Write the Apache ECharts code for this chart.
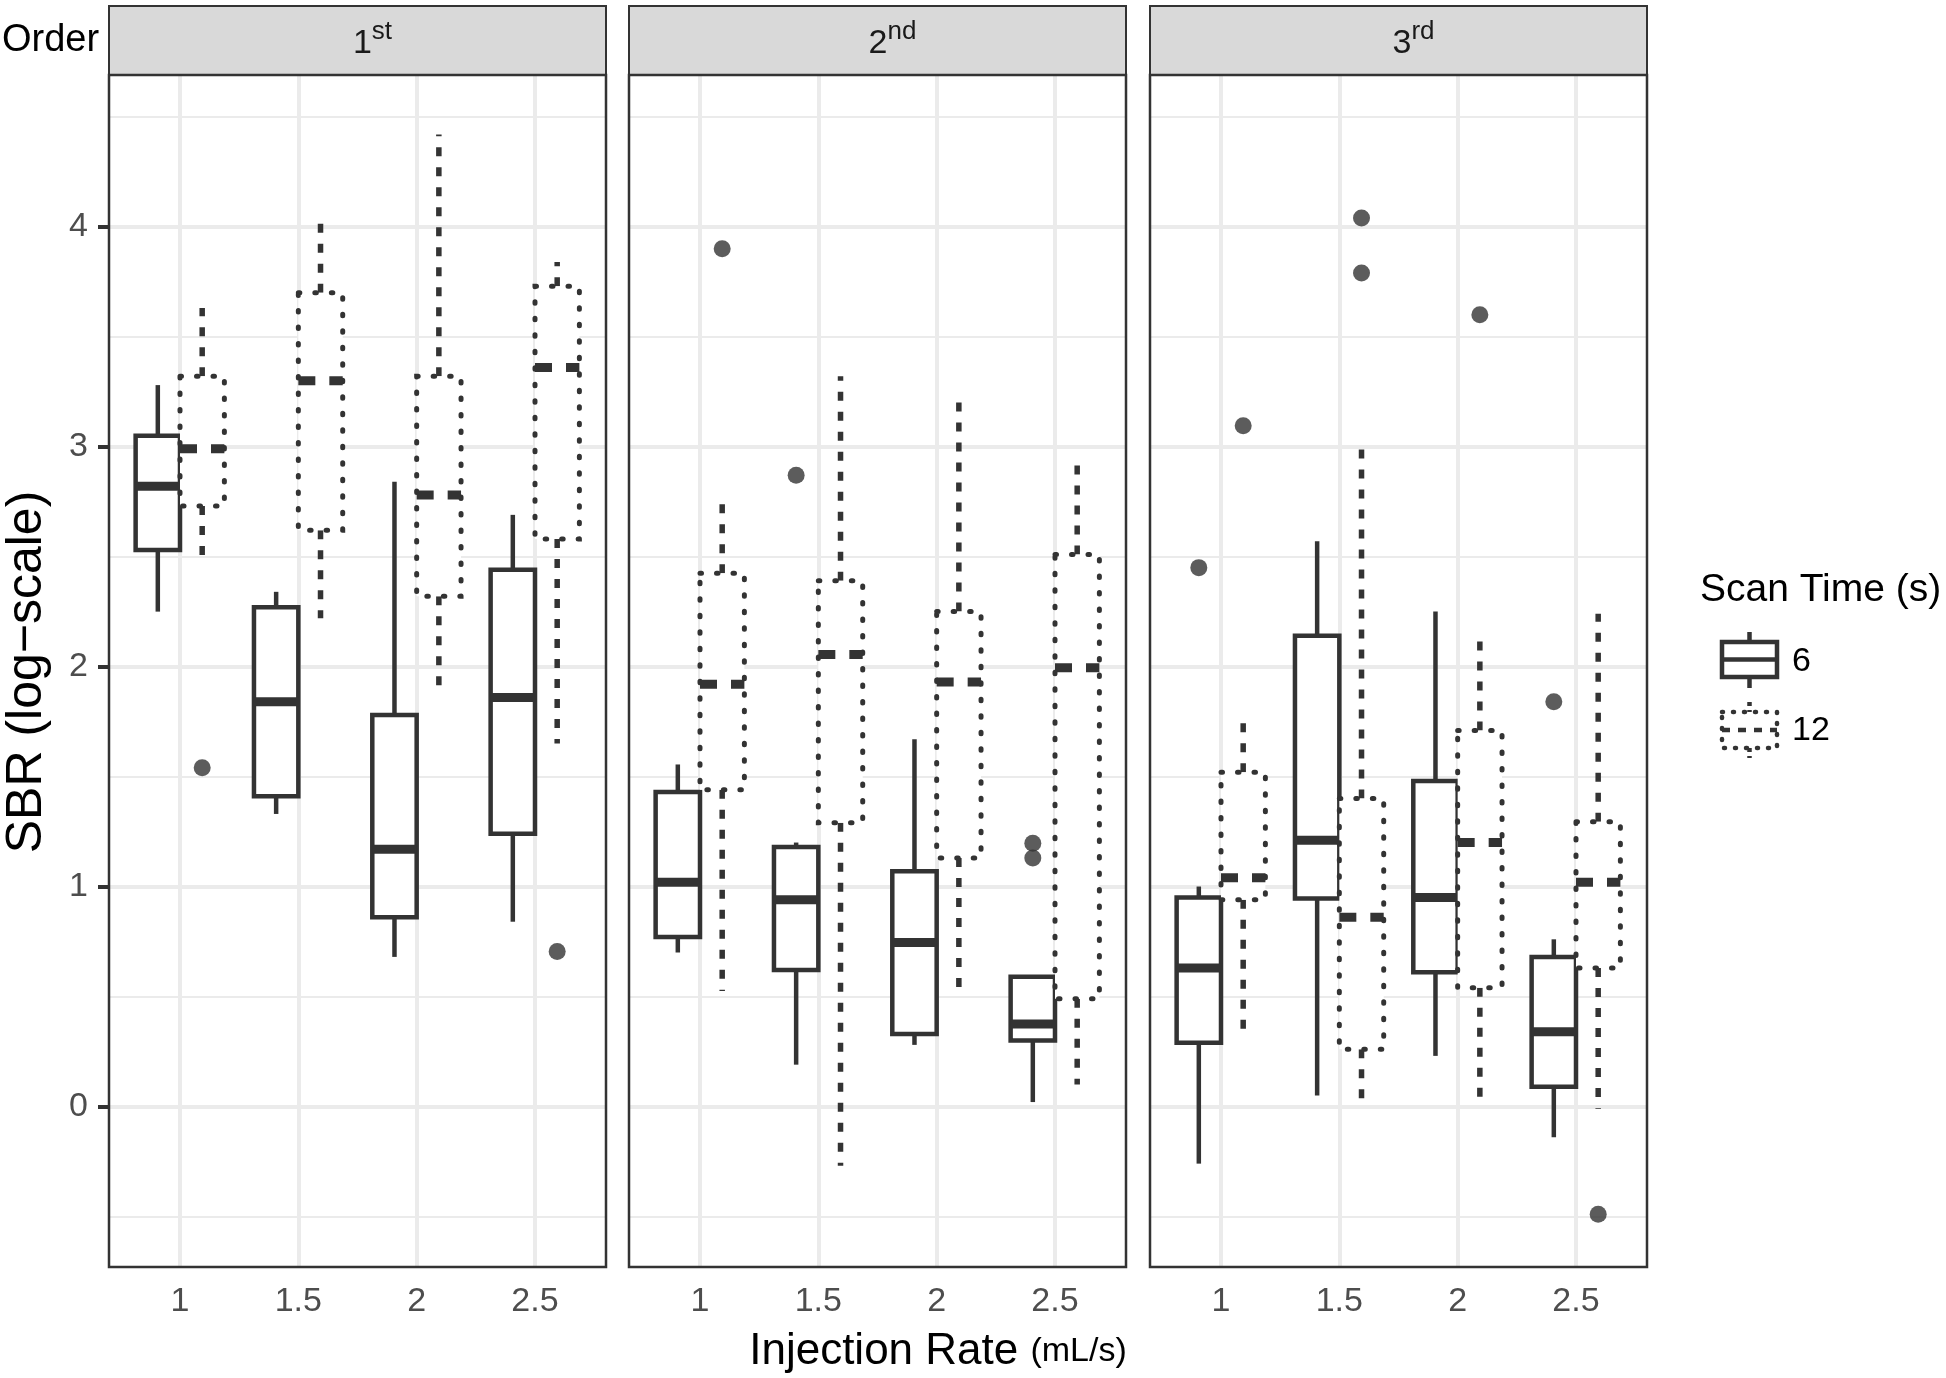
<!DOCTYPE html>
<html><head><meta charset="utf-8">
<script src="https://cdn.jsdelivr.net/npm/echarts@6/dist/echarts.min.js"></script>
<style>html,body{margin:0;padding:0;background:#fff}#c{width:1946px;height:1378px}</style>
</head><body><div id="c"></div>
<script>
// ---------------- data ----------------
const categories = ['1', '1.5', '2', '2.5'];          // Injection Rate (mL/s)
const facetMain = ['1', '2', '3'];
const facetSup = ['st', 'nd', 'rd'];
const yTickValues = [0, 1, 2, 3, 4];
const yMinorValues = [-0.5, 0.5, 1.5, 2.5, 3.5, 4.5];
const scanTimes = ['6', '12'];

// [lower whisker, Q1, median, Q3, upper whisker] for each injection rate
const box6_1st  = [[2.25, 2.53, 2.82, 3.05, 3.28], [1.33, 1.41, 1.84, 2.27, 2.34], [0.68, 0.86, 1.17, 1.78, 2.84], [0.84, 1.24, 1.86, 2.44, 2.69]];
const box12_1st = [[2.46, 2.73, 2.99, 3.32, 3.63], [2.22, 2.62, 3.30, 3.70, 4.02], [1.89, 2.32, 2.78, 3.32, 4.42], [1.65, 2.58, 3.36, 3.73, 3.84]];
const box6_2nd  = [[0.70, 0.77, 1.02, 1.43, 1.555], [0.19, 0.62, 0.94, 1.18, 1.20], [0.28, 0.33, 0.745, 1.07, 1.67], [0.02, 0.30, 0.375, 0.59, 0.59]];
const box12_2nd = [[0.525, 1.44, 1.92, 2.425, 2.74], [-0.27, 1.29, 2.055, 2.39, 3.32], [0.505, 1.13, 1.93, 2.25, 3.24], [0.10, 0.49, 1.995, 2.51, 2.93]];
const box6_3rd  = [[-0.26, 0.29, 0.63, 0.95, 1.00], [0.05, 0.945, 1.21, 2.14, 2.57], [0.23, 0.61, 0.95, 1.48, 2.25], [-0.14, 0.09, 0.34, 0.68, 0.76]];
const box12_3rd = [[0.33, 0.94, 1.04, 1.52, 1.78], [0.0, 0.26, 0.86, 1.40, 3.005], [0.0, 0.54, 1.20, 1.71, 2.12], [-0.01, 0.63, 1.02, 1.295, 2.24]];

// outliers: [injection rate index, value]
const out6_1st  = [];
const out12_1st = [[0, 1.54], [3, 0.705]];
const out6_2nd  = [[1, 2.87], [3, 1.197], [3, 1.13]];
const out12_2nd = [[0, 3.90]];
const out6_3rd  = [[0, 2.45], [3, 1.84]];
const out12_3rd = [[0, 3.095], [1, 4.04], [1, 3.79], [2, 3.60], [3, -0.49]];

// ---------------- layout ----------------
const FONT = '"Liberation Sans", Arial, sans-serif';
const INK = '#333333';
const GRID_COLOR = '#ebebeb';
const panelLefts = [109, 629, 1150];
const PW = 497, PT = 75, PH = 1192;
const DODGE = 0.1875;      // half of dodge width in category units
const HALF = 0.1875;       // half box width

const panels = [
  { box6: box6_1st, box12: box12_1st, out6: out6_1st, out12: out12_1st },
  { box6: box6_2nd, box12: box12_2nd, out6: out6_2nd, out12: out12_2nd },
  { box6: box6_3rd, box12: box12_3rd, out6: out6_3rd, out12: out12_3rd }
];

function boxRenderer(dotted) {
  return function (params, api) {
    const x = api.value(0);
    const lo = api.coord([x, api.value(1)]);
    const q1 = api.coord([x, api.value(2)]);
    const md = api.coord([x, api.value(3)]);
    const q3 = api.coord([x, api.value(4)]);
    const hi = api.coord([x, api.value(5)]);
    const l = api.coord([x - HALF, 0])[0];
    const r = api.coord([x + HALF, 0])[0];
    const cx = lo[0];
    const whisk = dotted
      ? { stroke: INK, lineWidth: 5.5, lineDash: [9, 11], lineCap: 'butt' }
      : { stroke: INK, lineWidth: 4.5 };
    const boxStyle = dotted
      ? { fill: '#fff', stroke: INK, lineWidth: 5, lineDash: [1.5, 15], lineCap: 'round' }
      : { fill: '#fff', stroke: INK, lineWidth: 4.5 };
    const medStyle = dotted
      ? { stroke: INK, lineWidth: 9, lineDash: [17, 14], lineCap: 'butt' }
      : { stroke: INK, lineWidth: 9 };
    return {
      type: 'group',
      children: [
        { type: 'line', shape: { x1: cx, y1: q3[1], x2: cx, y2: hi[1] }, style: whisk },
        { type: 'line', shape: { x1: cx, y1: q1[1], x2: cx, y2: lo[1] }, style: whisk },
        { type: 'rect', shape: { x: l, y: q3[1], width: r - l, height: q1[1] - q3[1] }, style: boxStyle },
        { type: 'line', shape: { x1: l, y1: md[1], x2: r, y2: md[1] }, style: medStyle }
      ]
    };
  };
}

const grids = [], xAxes = [], yAxes = [], series = [], graphics = [];

panels.forEach((p, k) => {
  grids.push({ left: panelLefts[k], top: PT, width: PW, height: PH, show: false, containLabel: false });
  xAxes.push({
    type: 'value', gridIndex: k, min: 0.4, max: 4.6,
    splitLine: { show: false }, axisLine: { show: false },
    axisTick: { show: true, customValues: [1, 2, 3, 4], length: 11, lineStyle: { color: INK, width: 4 } },
    axisLabel: {
      customValues: [1, 2, 3, 4], formatter: v => categories[Math.round(v) - 1],
      color: '#4d4d4d', fontSize: 34, fontFamily: FONT, margin: 18
    }
  });
  yAxes.push({
    type: 'value', gridIndex: k, min: -0.73, max: 4.69,
    splitLine: { show: false }, axisLine: { show: false },
    axisTick: { show: k === 0, customValues: yTickValues, length: 11, lineStyle: { color: INK, width: 4 } },
    axisLabel: {
      show: k === 0, customValues: yTickValues, formatter: v => String(v),
      color: '#4d4d4d', fontSize: 34, fontFamily: FONT, margin: 21
    }
  });

  const gridLines = [].concat(
    yMinorValues.map(v => ({ yAxis: v, lineStyle: { color: GRID_COLOR, width: 2, type: 'solid' } })),
    yTickValues.map(v => ({ yAxis: v, lineStyle: { color: GRID_COLOR, width: 4, type: 'solid' } })),
    [1, 2, 3, 4].map(v => ({ xAxis: v, lineStyle: { color: GRID_COLOR, width: 4, type: 'solid' } }))
  );

  series.push({
    type: 'custom', name: scanTimes[0], xAxisIndex: k, yAxisIndex: k, z: 3,
    renderItem: boxRenderer(false),
    encode: { x: 0, y: [1, 2, 3, 4, 5] },
    data: p.box6.map((b, i) => [i + 1 - DODGE].concat(b)),
    markLine: { silent: true, z: 1, symbol: ['none', 'none'], label: { show: false }, emphasis: { disabled: true }, animation: false, data: gridLines }
  });
  series.push({
    type: 'custom', name: scanTimes[1], xAxisIndex: k, yAxisIndex: k, z: 3,
    renderItem: boxRenderer(true),
    encode: { x: 0, y: [1, 2, 3, 4, 5] },
    data: p.box12.map((b, i) => [i + 1 + DODGE].concat(b))
  });
  series.push({
    type: 'scatter', xAxisIndex: k, yAxisIndex: k, z: 4, symbol: 'circle', symbolSize: 17,
    itemStyle: { color: INK }, silent: true,
    data: p.out6.map(([i, v]) => [i + 1 - DODGE, v])
  });
  series.push({
    type: 'scatter', xAxisIndex: k, yAxisIndex: k, z: 4, symbol: 'circle', symbolSize: 17,
    itemStyle: { color: INK }, silent: true,
    data: p.out12.map(([i, v]) => [i + 1 + DODGE, v])
  });

  // strip + border
  graphics.push({ type: 'rect', z: 50, shape: { x: panelLefts[k], y: 6, width: PW, height: PT - 6 },
    style: { fill: '#d9d9d9', stroke: INK, lineWidth: 2 } });
  graphics.push({ type: 'rect', z: 100, shape: { x: panelLefts[k], y: PT, width: PW, height: PH },
    style: { fill: 'rgba(0,0,0,0)', stroke: INK, lineWidth: 2.5 } });
  graphics.push({ type: 'text', z: 60, x: panelLefts[k] + PW / 2 + 15, y: 40,
    style: {
      text: '{m|' + facetMain[k] + '}{s|' + facetSup[k] + '}',
      align: 'center', verticalAlign: 'middle',
      rich: {
        m: { fontSize: 34, fontFamily: FONT, fill: '#1a1a1a', lineHeight: 42, verticalAlign: 'bottom' },
        s: { fontSize: 26, fontFamily: FONT, fill: '#1a1a1a', lineHeight: 26, verticalAlign: 'top' }
      }
    } });
});

// facet title, axis titles, legend
graphics.push({ type: 'text', z: 60, x: 2, y: 41,
  style: { text: 'Order', fontSize: 38, fontFamily: FONT, fill: '#000', align: 'left', verticalAlign: 'middle' } });
graphics.push({ type: 'text', z: 60, x: 938, y: 1352,
  style: {
    text: '{a|Injection Rate }{b|(mL/s)}', align: 'center', verticalAlign: 'middle',
    rich: { a: { fontSize: 44, fontFamily: FONT, fill: '#000' }, b: { fontSize: 34, fontFamily: FONT, fill: '#000' } }
  } });
graphics.push({ type: 'text', z: 60, x: 27, y: 672, rotation: Math.PI / 2,
  style: { text: 'SBR (log\u2212scale)', fontSize: 50, fontFamily: FONT, fill: '#000', align: 'center', verticalAlign: 'middle' } });

graphics.push({ type: 'text', z: 60, x: 1700, y: 590,
  style: { text: 'Scan Time (s)', fontSize: 39, fontFamily: FONT, fill: '#000', align: 'left', verticalAlign: 'middle' } });
// legend key: 6 (solid)
graphics.push({ type: 'line', z: 60, shape: { x1: 1749.5, y1: 632, x2: 1749.5, y2: 642 }, style: { stroke: INK, lineWidth: 4.5 } });
graphics.push({ type: 'line', z: 60, shape: { x1: 1749.5, y1: 677, x2: 1749.5, y2: 688 }, style: { stroke: INK, lineWidth: 4.5 } });
graphics.push({ type: 'rect', z: 60, shape: { x: 1722, y: 642, width: 55, height: 35 }, style: { fill: '#fff', stroke: INK, lineWidth: 4.5 } });
graphics.push({ type: 'line', z: 61, shape: { x1: 1722, y1: 659.5, x2: 1777, y2: 659.5 }, style: { stroke: INK, lineWidth: 4.5 } });
graphics.push({ type: 'text', z: 60, x: 1792, y: 662,
  style: { text: scanTimes[0], fontSize: 34, fontFamily: FONT, fill: '#000', align: 'left', verticalAlign: 'middle' } });
// legend key: 12 (dotted)
graphics.push({ type: 'line', z: 60, shape: { x1: 1749.5, y1: 702, x2: 1749.5, y2: 712 }, style: { stroke: INK, lineWidth: 4.5, lineDash: [4, 4] } });
graphics.push({ type: 'line', z: 60, shape: { x1: 1749.5, y1: 748, x2: 1749.5, y2: 758 }, style: { stroke: INK, lineWidth: 4.5, lineDash: [4, 4] } });
graphics.push({ type: 'rect', z: 60, shape: { x: 1722, y: 712, width: 55, height: 36 }, style: { fill: '#fff', stroke: INK, lineWidth: 4.5, lineDash: [1, 10], lineCap: 'round' } });
graphics.push({ type: 'line', z: 61, shape: { x1: 1722, y1: 730, x2: 1777, y2: 730 }, style: { stroke: INK, lineWidth: 4.5, lineDash: [8, 8] } });
graphics.push({ type: 'text', z: 60, x: 1792, y: 731,
  style: { text: scanTimes[1], fontSize: 34, fontFamily: FONT, fill: '#000', align: 'left', verticalAlign: 'middle' } });

const chart = echarts.init(document.getElementById('c'), null, { renderer: 'canvas' });
chart.setOption({
  animation: false,
  backgroundColor: '#ffffff',
  grid: grids,
  xAxis: xAxes,
  yAxis: yAxes,
  series: series,
  graphic: graphics
});
</script></body></html>
